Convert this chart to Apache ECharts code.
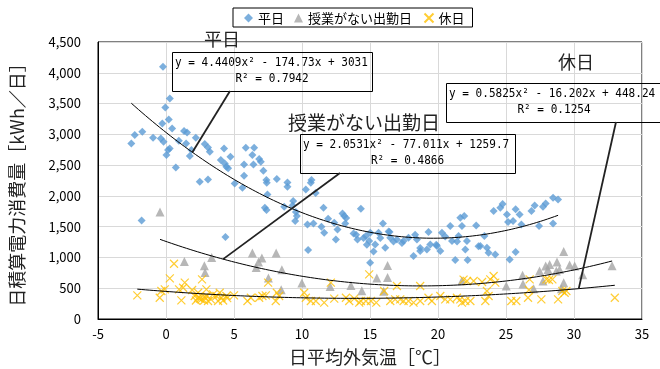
<!DOCTYPE html>
<html>
<head>
<meta charset="utf-8">
<script src="https://cdn.jsdelivr.net/npm/echarts@6/dist/echarts.min.js"></script>
<style>
  html, body { margin: 0; padding: 0; background: #fff; }
  #chart { width: 660px; height: 369px; }
</style>
</head>
<body>
<div id="chart"></div>
<script>
// Series names (legend order)
const seriesNames = ['平日', '授業がない出勤日', '休日'];

// Daily mean outdoor temperature [°C], daily electricity use [kWh/day]
const weekday = [
  [-2.55,2853],[-2.3,2989],[-1.74,3043],[-1.79,1602],[-0.95,2945],[-0.38,2934],[-0.22,4098],[-0.27,3177],
  [-0.18,2880],[-0.05,3437],[0.03,2664],[0.15,2745],[0.2,3242],[0.27,2771],[0.28,3584],[0.45,3096],
  [0.72,2463],[0.94,2896],[1.33,3054],[1.48,2853],[1.55,3031],[1.75,2648],[1.87,2745],[2.19,2945],
  [2.48,2230],[2.85,2843],[3.09,2787],[3.09,2268],[3.22,2718],[4.03,2583],[4.27,2771],[4.32,2528],
  [4.37,1332],[4.44,2474],[4.57,2447],[4.74,2636],[5.05,2203],[5.62,2133],[5.74,2511],[5.74,2328],
  [5.87,2783],[6.35,2664],[6.43,2511],[6.48,2783],[6.85,2599],[6.97,2555],[7.16,2409],[7.27,1808],
  [7.38,2258],[7.39,1771],[7.41,2214],[7.46,2024],[8.15,2274],[8.69,1824],[8.93,2219],[8.93,2149],
  [9.3,1845],[9.35,1917],[9.55,1738],[9.62,1673],[9.5,1592],[10.28,2105],[10.4,1537],[10.45,1121],
  [10.65,2214],[10.7,2258],[10.84,1553],[11.0,2047],[11.43,1499],[11.58,1808],[11.63,1402],[11.92,1629],
  [12.37,1564],[12.49,1293],[12.61,1455],[12.98,1715],[13.1,1673],[13.18,1553],[13.25,1641],[13.79,1391],
  [13.98,1369],[14.08,1293],[14.33,1792],[14.52,1315],[14.7,1348],[14.77,1207],[14.94,1267],[15.01,915],
  [15.02,1402],[15.26,1098],[15.38,1212],[15.63,1402],[15.76,1315],[15.95,1553],[16.12,1158],[16.37,1423],
  [16.44,1413],[16.49,1321],[16.73,1261],[16.98,1293],[17.35,1234],[17.47,1267],[17.83,1321],[18.2,1023],
  [18.32,1369],[18.45,1293],[18.69,1104],[18.69,1153],[19.18,1131],[19.3,1413],[19.43,1212],[19.87,1207],
  [19.92,1186],[20.17,1104],[20.29,1402],[20.53,1342],[20.9,1511],[21.03,1267],[21.27,958],[21.4,1261],
  [21.51,1348],[21.64,1646],[21.76,1511],[21.93,1673],[22.01,1131],[22.13,1267],[22.18,958],[22.81,1520],
  [22.98,1180],[23.11,1186],[23.41,1348],[23.6,1158],[23.72,1077],[24.09,1754],[24.21,1049],[24.58,1808],
  [24.75,1868],[25.07,1699],[25.15,1576],[25.27,968],[25.52,1592],[25.71,1781],[25.71,1088],[26.0,1699],
  [26.13,1537],[26.87,1754],[27.11,1845],[27.43,1511],[27.72,1824],[27.92,1878],[28.46,1970],[28.46,1553],
  [28.83,1943]
];
const noClassWorkday = [
  [-0.44,1738],[1.35,936],[2.82,866],[2.87,757],[3.36,1001],[6.35,1072],[7.05,991],[6.8,926],
  [6.63,838],[7.53,666],[8.1,1072],[8.52,801],[8.47,476],[9.99,585],[12.07,530],[13.6,546],
  [14.4,460],[15.5,666],[16.29,871],[16.29,676],[16.0,449],[21.76,622],[25.02,536],[26.22,709],
  [26.25,568],[27.03,492],[27.47,780],[27.72,617],[27.92,861],[28.09,806],[28.21,887],[28.75,926],
  [28.7,780],[28.94,806],[29.24,1098],[29.24,590],[29.07,492],[29.68,877],[30.05,861],[30.64,720],
  [32.8,866]
];
const holiday = [
  [-2.11,384],[-0.46,346],[-0.34,455],[-0.09,481],[0.59,898],[0.28,660],[1.38,590],[0.96,481],
  [1.26,508],[1.13,302],[1.92,471],[2.11,373],[2.2,300],[2.36,346],[2.5,330],[2.6,318],[2.36,427],
  [2.65,644],[2.8,300],[2.97,481],[3.0,370],[3.09,292],[2.85,357],[3.3,320],[3.46,400],[3.71,373],
  [3.95,427],[4.07,346],[4.2,300],[4.44,373],[4.5,340],[3.83,292],[5.0,384],[5.99,292],[6.24,346],
  [6.85,346],[7.09,373],[7.34,384],[7.51,590],[8.15,427],[8.07,292],[8.32,373],[10.16,427],[10.28,346],
  [10.65,292],[11.02,292],[11.63,265],[12.12,590],[12.37,330],[13.23,346],[13.47,292],[13.84,330],
  [14.21,265],[14.33,292],[14.7,292],[14.94,725],[15.07,292],[15.46,265],[16.04,455],[16.98,536],
  [16.49,292],[16.85,318],[17.22,318],[17.47,292],[17.83,292],[18.2,265],[18.69,536],[18.69,292],
  [19.3,346],[19.55,292],[20.17,373],[20.53,318],[20.9,318],[21.39,346],[21.64,318],[21.76,265],
  [22.01,292],[22.38,292],[21.88,639],[22.13,617],[22.62,617],[23.24,601],[23.48,292],[23.72,373],
  [23.6,455],[24.09,699],[24.21,590],[23.84,644],[25.39,292],[25.76,292],[26.62,346],[26.69,471],
  [26.74,644],[27.6,318],[27.97,644],[28.16,633],[28.41,644],[28.83,318],[29.14,455],[29.44,455],
  [29.31,427],[33.0,346]
];

// Quadratic trendline coefficients [a, b, c] for y = a·x² + b·x + c, and R²
const weekdayFit = [4.4409, -174.73, 3031];
const noClassFit = [2.0531, -77.011, 1259.7];
const holidayFit = [0.5825, -16.202, 448.24];
const rSquared = ['0.7942', '0.4866', '0.1254'];

// Axis ranges
const xRange = [-5, 35, 5];
const yRange = [0, 4500, 500];

const colors = ['#5B9BD5', '#A5A5A5', '#FFC000'];
const jp = '"Noto Sans CJK JP", "Noto Sans", sans-serif';
const mono = '"DejaVu Sans Mono", "Liberation Mono", monospace';

const fitY = (f, x) => f[0] * x * x + f[1] * x + f[2];
function trend(f, pts) {
  const xs = pts.map(p => p[0]);
  const lo = Math.min(...xs), hi = Math.max(...xs);
  const out = [];
  const n = 120;
  for (let i = 0; i <= n; i++) {
    const x = lo + (hi - lo) * i / n;
    out.push([x, fitY(f, x)]);
  }
  return out;
}
function equation(f) {
  const sign = v => (v < 0 ? ' - ' : ' + ');
  return 'y = ' + f[0] + 'x²' + sign(f[1]) + Math.abs(f[1]) + 'x' + sign(f[2]) + Math.abs(f[2]);
}

const chart = echarts.init(document.getElementById('chart'), null, { renderer: 'canvas' });

const trendStyle = { color: '#000', width: 1 };
const option = {
  animation: false,
  textStyle: { fontFamily: jp },
  grid: {
    left: 98, right: 18, top: 42, bottom: 50,
    show: true, borderColor: '#000', borderWidth: 1,
    containLabel: false, outerBoundsMode: 'none'
  },
  legend: {
    data: seriesNames,
    left: 233, top: 8,
    borderColor: '#000', borderWidth: 1, borderRadius: 0,
    padding: [3, 8, 2, 11],
    itemGap: 10, itemWidth: 9, itemHeight: 9,
    textStyle: { fontFamily: jp, fontSize: 13, color: '#000' }
  },
  xAxis: {
    type: 'value', min: xRange[0], max: xRange[1], interval: xRange[2],
    axisLine: { show: true, onZero: false, lineStyle: { color: '#000', width: 1 } },
    axisTick: { show: false },
    splitLine: { show: true, lineStyle: { color: '#d9d9d9', width: 1 } },
    axisLabel: { fontFamily: jp, fontSize: 13, color: '#000', margin: 9 },
    name: '日平均外気温［℃］', nameLocation: 'middle', nameGap: 29,
    nameTextStyle: { fontFamily: jp, fontSize: 18, color: '#222' }
  },
  yAxis: {
    type: 'value', min: yRange[0], max: yRange[1], interval: yRange[2],
    axisLine: { show: true, onZero: false, lineStyle: { color: '#000', width: 1 } },
    axisTick: { show: false },
    splitLine: { show: true, lineStyle: { color: '#d9d9d9', width: 1 } },
    axisLabel: {
      fontFamily: jp, fontSize: 13, color: '#000', margin: 17,
      formatter: v => v.toLocaleString('en-US')
    },
    name: '日積算電力消費量［kWh／日］', nameLocation: 'middle', nameGap: 72, nameRotate: 90,
    nameTextStyle: { fontFamily: jp, fontSize: 18, color: '#222' }
  },
  series: [
    {
      name: seriesNames[0], type: 'scatter', data: weekday,
      symbol: 'diamond', symbolSize: 8,
      itemStyle: { color: colors[0] }
    },
    {
      name: seriesNames[1], type: 'scatter', data: noClassWorkday,
      symbol: 'triangle', symbolSize: 9,
      itemStyle: { color: colors[1] }
    },
    {
      name: seriesNames[2], type: 'scatter', data: holiday,
      symbol: 'path://M0,0L10,10M10,0L0,10', symbolSize: 8,
      itemStyle: { color: 'none', borderColor: colors[2], borderWidth: 1.2 }
    },
    { type: 'line', data: trend(weekdayFit, weekday), showSymbol: false, silent: true, lineStyle: trendStyle, z: 5 },
    { type: 'line', data: trend(noClassFit, noClassWorkday), showSymbol: false, silent: true, lineStyle: trendStyle, z: 5 },
    { type: 'line', data: trend(holidayFit, holiday), showSymbol: false, silent: true, lineStyle: trendStyle, z: 5 }
  ]
};
chart.setOption(option);

// Trendline callouts: caption, equation box and a leader line to the curve
const callouts = [
  { title: seriesNames[0], titleX: 222, titleY: 39, titleSize: 18,
    box: [172, 52, 200, 39], fit: weekdayFit, r2: rSquared[0], from: [230, 91], atX: 1.94 },
  { title: seriesNames[1], titleX: 364, titleY: 123, titleSize: 19,
    box: [300, 134, 215, 39], fit: noClassFit, r2: rSquared[1], from: [340, 173], atX: 4.2 },
  { title: seriesNames[2], titleX: 576, titleY: 62, titleSize: 18,
    box: [446, 83, 216, 39], fit: holidayFit, r2: rSquared[2], from: [616, 122], atX: 30.35 }
];

const eqScale = 0.85;
const graphics = [];
callouts.forEach(c => {
  const [bx, by, bw, bh] = c.box;
  graphics.push({
    type: 'text', x: c.titleX, y: c.titleY, z: 20,
    style: { text: c.title, fontFamily: jp, fontSize: c.titleSize, fill: '#222',
             align: 'center', verticalAlign: 'middle' }
  });
  graphics.push({
    type: 'rect', z: 20,
    shape: { x: bx + 0.5, y: by + 0.5, width: bw, height: bh },
    style: { fill: 'none', stroke: '#000', lineWidth: 1 }
  });
  graphics.push({
    type: 'text', z: 21, x: bx + 3, y: by + 11, scaleX: eqScale,
    style: { text: equation(c.fit), fontFamily: mono, fontSize: 13, fill: '#000',
             align: 'left', verticalAlign: 'middle' }
  });
  graphics.push({
    type: 'text', z: 21, x: bx + bw / 2, y: by + 27, scaleX: eqScale,
    style: { text: 'R² = ' + c.r2, fontFamily: mono, fontSize: 13, fill: '#000',
             align: 'center', verticalAlign: 'middle' }
  });
  const end = chart.convertToPixel({ gridIndex: 0 }, [c.atX, fitY(c.fit, c.atX)]);
  graphics.push({
    type: 'line', z: 20,
    shape: { x1: c.from[0], y1: c.from[1], x2: end[0], y2: end[1] },
    style: { stroke: '#222', lineWidth: 1.8 }
  });
});
chart.setOption({ graphic: graphics });
</script>
</body>
</html>
